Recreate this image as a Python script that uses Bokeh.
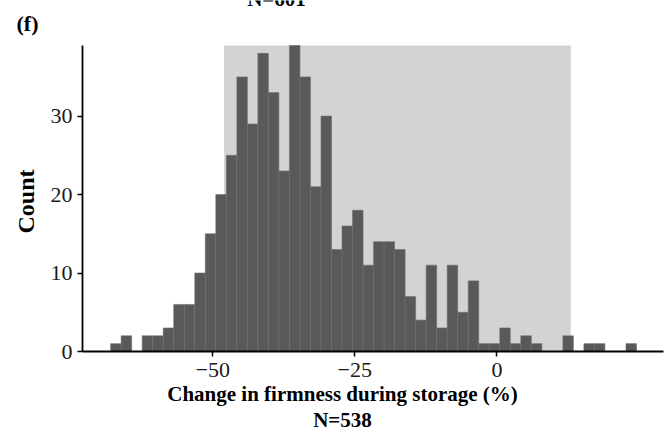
import numpy as np
from bokeh.plotting import figure
from bokeh.models import Range1d, Label, FixedTicker, CustomJSTickFormatter, LinearAxis
from bokeh.embed import file_html
from bokeh.resources import INLINE

# Histogram of the change in firmness during storage (%), 50 equal bins
bin_start = -67.95
bin_width = 1.85
counts = [1, 2, 0, 2, 2, 3, 6, 6, 10, 15,
          20, 25, 35, 29, 38, 33, 23, 39, 35, 21,
          30, 13, 16, 18, 11, 14, 14, 13, 7, 4,
          11, 3, 11, 5, 9, 1, 1, 3, 1, 2,
          1, 0, 0, 2, 0, 1, 1, 0, 0, 1]
shade_range = [-48.0, 13.0]
x_ticks = [-50, -25, 0]
y_ticks = [0, 10, 20, 30]
x_title = "Change in firmness during storage (%)"
y_title = "Count"
n_text = "N=538"
n_text_above = "N=601"
panel_tag = "(f)"

SERIF = "Liberation Serif"
W, H = 665, 435

# panel box (pixels) and the data limits it shows
PANEL_L, PANEL_R, PANEL_T, PANEL_B = 82, 663, 45, 351
x_lo, x_hi = -72.9, 29.3
y_lo, y_hi = 0, 39

sx = (PANEL_R - PANEL_L) / (x_hi - x_lo)
sy = (PANEL_B - PANEL_T) / (y_hi - y_lo)


def X(px):
    return x_lo + (px - PANEL_L) / sx


def Y(py):
    return y_lo + (PANEL_B - py) / sy


counts_arr = np.array(counts, dtype=float)
lefts = bin_start + np.arange(len(counts)) * bin_width
rights = lefts + bin_width
keep = counts_arr > 0

# the plotting frame fills the canvas; axes are pinned to the panel edges
p = figure(width=W, height=H,
           x_range=Range1d(X(0), X(W)), y_range=Range1d(Y(H), Y(0)),
           output_backend="svg", toolbar_location=None,
           x_axis_type=None, y_axis_type=None,
           min_border=0)
p.outline_line_color = None
p.xgrid.visible = False
p.ygrid.visible = False
p.background_fill_color = "white"
p.border_fill_color = "white"

# shaded interval behind the bars
p.quad(left=[shade_range[0]], right=[shade_range[1]], bottom=[y_lo], top=[y_hi],
       fill_color="#d3d3d3", line_color=None)

p.quad(left=lefts[keep], right=rights[keep], bottom=0, top=counts_arr[keep],
       fill_color="#595959", line_color="#6e6e6e", line_width=0.6)

minus_fmt = CustomJSTickFormatter(
    code="return tick < 0 ? '\u2212' + (-tick) : tick.toString();")

xaxis = LinearAxis(fixed_location=y_lo, bounds=(x_lo, x_hi),
                   ticker=FixedTicker(ticks=x_ticks), formatter=minus_fmt,
                   major_label_standoff=6)
yaxis = LinearAxis(fixed_location=x_lo, bounds=(y_lo, y_hi),
                   ticker=FixedTicker(ticks=y_ticks), major_label_standoff=5)
for ax in (xaxis, yaxis):
    ax.axis_line_color = "black"
    ax.axis_line_width = 1.8
    ax.major_tick_line_color = "black"
    ax.major_tick_line_width = 1.5
    ax.major_tick_out = 5
    ax.major_tick_in = 0
    ax.minor_tick_line_color = None
    ax.major_label_text_font = SERIF
    ax.major_label_text_font_size = "22px"
    ax.major_label_text_color = "#1a1a1a"
p.add_layout(xaxis, "below")
p.add_layout(yaxis, "left")


def add_text(px, py, text, size, align="center", angle=0.0):
    # (px, py) is the vertical middle of the text line
    p.add_layout(Label(x=X(px), y=Y(py), text=text, text_align=align,
                       text_baseline="middle", angle=angle, text_font=SERIF,
                       text_font_size=size, text_font_style="bold",
                       text_color="black"))


add_text(342, 393, x_title, "21px")
add_text(342, 419, n_text, "21px")
add_text(25, 201, y_title, "24px", angle=np.pi / 2)
add_text(16, 23, panel_tag, "22px", align="left")
add_text(276, -2, n_text_above, "21px")

open("out.html", "w").write(file_html(p, INLINE))
